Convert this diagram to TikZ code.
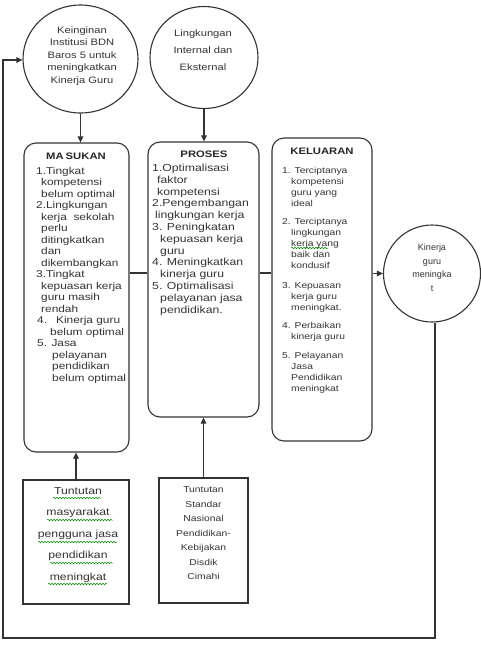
\documentclass[tikz,border=0pt]{standalone}
\usepackage{fontspec}
\setmainfont{Liberation Sans}[FakeStretch=1.2]
\newfontfamily\plainf{Liberation Sans}
\usetikzlibrary{arrows.meta,shapes.geometric,decorations.pathmorphing}
\begin{document}
\begin{tikzpicture}[x=1pt,y=-1pt,
  ln/.style={draw=black!80,line width=1.1pt},
  arr/.style={ln,-{Triangle[length=6pt,width=5.5pt]}},
  rbox/.style={ln,rectangle,rounded corners=12pt,inner sep=0pt},
  sbox/.style={ln,rectangle,inner sep=0pt},
  circ/.style={ln,ellipse,inner sep=0pt},
  txt/.style={text=black!80,inner sep=0pt,align=left},
  ctxt/.style={text=black!80,inner sep=0pt,align=center},
  ttl/.style={text=black!85,inner sep=0pt,font=\fontsize{9.4}{12}\selectfont\bfseries},
  squig/.style={draw=green!55!black,line width=0.5pt,decorate,decoration={snake,segment length=3pt,amplitude=0.8pt}}
]
\useasboundingbox (0,0) rectangle (481,649);

% circles
\node[circ,minimum width=115pt,minimum height=108pt] (c1) at (80.5,59) {};
\node[ctxt,font=\fontsize{9.3}{12.5}\selectfont] (c1t) at (82,56) {Keinginan\\Institusi BDN\\Baros 5 untuk\\meningkatkan\\Kinerja Guru};
\node[circ,minimum width=108pt,minimum height=102pt] (c2) at (204,57.5) {};
\node[ctxt,font=\fontsize{9.3}{17}\selectfont] (c2t) at (203,50) {Lingkungan\\Internal dan\\Eksternal};
\node[circ,minimum width=97pt,minimum height=97pt] (c3) at (432,273.5) {};
\node[ctxt,font=\plainf\fontsize{9}{13.5}\selectfont] (c3t) at (432,268) {Kinerja\\guru\\meningka\\t};

% main boxes
\node[rbox,minimum width=105pt,minimum height=309pt] (masukan) at (76.5,297.5) {};
\node[rbox,minimum width=111pt,minimum height=275pt] (proses) at (203.5,279.5) {};
\node[rbox,minimum width=100pt,minimum height=303pt] (keluaran) at (322,289.5) {};

% titles
\node[ttl] (masukanH) at (76,156) {MA\hspace{2pt}SUKAN};
\node[ttl] (prosesH) at (204,154) {PROSES};
\node[ttl] (keluaranH) at (322,151) {KELUARAN};

% masukan text
\node[txt,anchor=north west,font=\fontsize{9.9}{11.5}\selectfont] (masukanT) at (36,167) {%
1.Tingkat\\
\hspace*{5pt}kompetensi\\
\hspace*{5pt}belum optimal\\
2.Lingkungan\\
\hspace*{5pt}kerja\ \ sekolah\\
\hspace*{5pt}perlu\\
\hspace*{5pt}ditingkatkan\\
\hspace*{5pt}dan\\
\hspace*{5pt}dikembangkan\\
3.Tingkat\\
\hspace*{5pt}kepuasan kerja\\
\hspace*{5pt}guru masih\\
\hspace*{5pt}rendah\\
\hspace*{1pt}4.\hspace{9pt}Kinerja guru\\
\hspace*{14pt}belum optimal\\
\hspace*{1pt}5. Jasa\\
\hspace*{16pt}pelayanan\\
\hspace*{16pt}pendidikan\\
\hspace*{16pt}belum optimal};

% proses text
\node[txt,anchor=north west,font=\fontsize{10.2}{11.8}\selectfont] (prosesT) at (152,164) {%
1.Optimalisasi\\
\hspace*{5pt}faktor\\
\hspace*{5pt}kompetensi\\
2.Pengembangan\\
\hspace*{3pt}lingkungan kerja\\
3. Peningkatan\\
\hspace*{8pt}kepuasan kerja\\
\hspace*{8pt}guru\\
4. Meningkatkan\\
\hspace*{8pt}kinerja guru\\
5. Optimalisasi\\
\hspace*{8pt}pelayanan jasa\\
\hspace*{8pt}pendidikan.};

% keluaran text
\node[txt,anchor=north west,font=\fontsize{8.6}{11}\selectfont] (keluaranT) at (282,167) {%
1. Terciptanya\\
\hspace*{9pt}kompetensi\\
\hspace*{9pt}guru yang\\
\hspace*{9pt}ideal\\[7pt]
2. Terciptanya\\
\hspace*{9pt}lingkungan\\
\hspace*{9pt}kerja yang\\
\hspace*{9pt}baik dan\\
\hspace*{9pt}kondusif\\[9pt]
3. Kepuasan\\
\hspace*{9pt}kerja guru\\
\hspace*{9pt}meningkat.\\[7pt]
4. Perbaikan\\
\hspace*{9pt}kinerja guru\\[8pt]
5. Pelayanan\\
\hspace*{9pt}Jasa\\
\hspace*{9pt}Pendidikan\\
\hspace*{9pt}meningkat};

% bottom boxes
\node[sbox,minimum width=106pt,minimum height=124pt] (tmas) at (76,542) {};
\node[ctxt,font=\fontsize{10.2}{21.5}\selectfont] (tmasT) at (78,535) {Tuntutan\\masyarakat\\pengguna jasa\\pendidikan\\meningkat};
\node[sbox,minimum width=89pt,minimum height=125pt] (tsnp) at (203.5,540.5) {};
\node[ctxt,font=\fontsize{8.6}{14.5}\selectfont] (tsnpT) at (203.5,533.5) {Tuntutan\\Standar\\Nasional\\Pendidikan-\\Kebijakan\\Disdik\\Cimahi};

% spell-check squiggles
\draw[squig] (53,498) -- (101,498);
\draw[squig] (47,520) -- (113,520);
\draw[squig] (38,542) -- (117,542);
\draw[squig] (50,563) -- (113,563);
\draw[squig] (48,584) -- (107,584);
\draw[squig] (291,248) -- (328,248);

% connectors
\draw[arr] (c1.south) -- (c1.south |- masukan.north);
\draw[arr] (c2.south) -- (c2.south |- proses.north);
\draw[ln] (masukan.east |- 0,273) -- (proses.west |- 0,273);
\draw[ln] (proses.east |- 0,273) -- (keluaran.west |- 0,273);
\draw[arr] (keluaran.east |- c3.west) -- (c3.west);
\draw[arr] (tmas.north) -- (tmas.north |- masukan.south);
\draw[arr] (tsnp.north) -- (tsnp.north |- proses.south);
\coordinate (fb1) at (435,638);
\coordinate (fb2) at (3,638);
\coordinate (fb3) at (3,60);
\draw[arr] (c3.south -| fb1) -- (fb1) -- (fb2) -- (fb3) -- (c1.west |- fb3);
\end{tikzpicture}
\end{document}
